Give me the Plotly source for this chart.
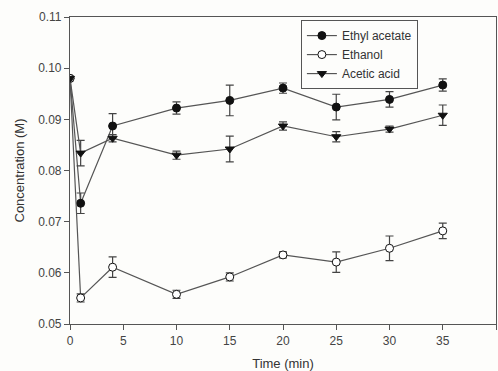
import plotly.graph_objects as go

time = [0, 1, 4, 10, 15, 20, 25, 30, 35]
ethyl_acetate = [0.098, 0.0736, 0.0887, 0.0922, 0.0937, 0.0961, 0.0924, 0.0939, 0.0967]
ethyl_acetate_err = [0.0003, 0.0020, 0.0024, 0.0012, 0.0030, 0.0010, 0.0025, 0.0015, 0.0012]
ethanol = [0.098, 0.0551, 0.0611, 0.0558, 0.0592, 0.0635, 0.0621, 0.0648, 0.0682]
ethanol_err = [0.0003, 0.0008, 0.0020, 0.0008, 0.0008, 0.0006, 0.0020, 0.0024, 0.0015]
acetic_acid = [0.098, 0.0834, 0.0863, 0.0830, 0.0842, 0.0887, 0.0866, 0.0881, 0.0908]
acetic_acid_err = [0.0003, 0.0025, 0.0007, 0.0008, 0.0025, 0.0008, 0.0010, 0.0006, 0.0020]

x_ticks = [0, 5, 10, 15, 20, 25, 30, 35, 40]
y_ticks = [0.05, 0.06, 0.07, 0.08, 0.09, 0.10, 0.11]
y_labels = ["0.05", "0.06", "0.07", "0.08", "0.09", "0.10", "0.11"]

line_col = "#555555"
err_col = "#444444"

fig = go.Figure()

def add(name, y, err, symbol, fill):
    fig.add_trace(go.Scatter(
        x=time, y=y, name=name, mode="lines+markers",
        line=dict(color=line_col, width=1.2),
        marker=dict(symbol=symbol, size=8, color=fill,
                    line=dict(color="#111111", width=1)),
        error_y=dict(type="data", array=err, visible=True,
                     color=err_col, thickness=1.2, width=4),
    ))

add("Ethyl acetate", ethyl_acetate, ethyl_acetate_err, "circle", "#111111")
add("Ethanol", ethanol, ethanol_err, "circle", "white")
add("Acetic acid", acetic_acid, acetic_acid_err, "triangle-down", "#111111")

axis_common = dict(
    showline=True, linecolor="#555555", linewidth=1.2, mirror=True,
    ticks="outside", ticklen=5, tickcolor="#555555", tickwidth=1,
    showgrid=False, zeroline=False,
    tickfont=dict(family="Liberation Sans, Arial, sans-serif", size=12, color="#444444"),
)

fig.update_layout(
    width=498, height=371,
    margin=dict(l=70, r=2, t=17, b=47),
    paper_bgcolor="#fdfdfb", plot_bgcolor="#fdfdfb",
    font=dict(family="Liberation Sans, Arial, sans-serif", size=12, color="#333333"),
    showlegend=True,
    legend=dict(x=0.542, y=0.99, xanchor="left", yanchor="top",
                bordercolor="#555555", borderwidth=1, bgcolor="#fdfdfb",
                font=dict(size=12, color="#333333"),
                itemwidth=30, tracegroupgap=0),
    xaxis=dict(range=[0, 40], tickvals=x_ticks,
               title=dict(text="Time (min)", standoff=12,
                          font=dict(size=13, color="#333333")),
               **axis_common),
    yaxis=dict(range=[0.05, 0.11], tickvals=y_ticks, ticktext=y_labels,
               title=dict(text="Concentration (M)", standoff=10,
                          font=dict(size=13, color="#333333")),
               **axis_common),
)

fig.write_html("out.html")
